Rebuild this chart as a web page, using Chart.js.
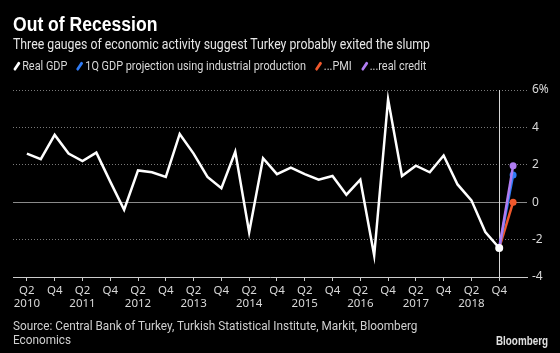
<!DOCTYPE html>
<html>
<head>
<meta charset="utf-8">
<script src="https://cdn.jsdelivr.net/npm/chart.js@4.4.1/dist/chart.umd.min.js"></script>
<style>
  html, body { margin: 0; padding: 0; background: #000; }
  #wrap { position: relative; width: 560px; height: 353px; background: #000; overflow: hidden; font-family: Roboto, "Noto Sans", sans-serif; color: #ddd; }
  #chart { position: absolute; left: 0; top: 0; }
  .txt { position: absolute; left: 13px; white-space: nowrap; transform-origin: 0 0; }
  #title { top: 13px; font-family: "Liberation Sans", sans-serif; font-size: 20px; line-height: 22px; font-weight: bold; font-style: normal; color: #fff; }
  #subtitle { top: 35px; font-size: 14px; line-height: 18px; color: #e6e6e6; }
  #legend { top: 58px; font-size: 12.5px; line-height: 16px; color: #d8d8d8; }
  #legend .item { display: inline-block; margin-right: 10px; }
  #legend .swatch { display: inline-block; width: 2.5px; height: 10px; margin: 0 5px 0 3px; transform: rotate(38deg); vertical-align: -1px; border-radius: 1px; }
  #source { top: 319px; font-size: 12.5px; line-height: 13.5px; color: #d0d0d0; }
  #brand { position: absolute; right: 12px; top: 334px; font-family: "Liberation Sans", sans-serif; font-size: 12.5px; line-height: 14px; font-weight: bold; font-style: normal; color: #e0e0e0; transform-origin: 100% 0; }
</style>
</head>
<body>
<div id="wrap">
  <canvas id="chart" width="560" height="353"></canvas>
  <div class="txt" id="title">Out of Recession</div>
  <div class="txt" id="subtitle">Three gauges of economic activity suggest Turkey probably exited the slump</div>
  <div class="txt" id="legend"></div>
  <div class="txt" id="source">Source: Central Bank of Turkey, Turkish Statistical Institute, Markit, Bloomberg<br>Economics</div>
  <div id="brand">Bloomberg</div>
</div>
<script>
// --- DATA ---
const quarters = [
    'Q2 2010', 'Q3 2010', 'Q4 2010', 'Q1 2011', 'Q2 2011', 'Q3 2011', 'Q4 2011',
    'Q1 2012', 'Q2 2012', 'Q3 2012', 'Q4 2012', 'Q1 2013', 'Q2 2013', 'Q3 2013', 'Q4 2013',
    'Q1 2014', 'Q2 2014', 'Q3 2014', 'Q4 2014', 'Q1 2015', 'Q2 2015', 'Q3 2015', 'Q4 2015',
    'Q1 2016', 'Q2 2016', 'Q3 2016', 'Q4 2016', 'Q1 2017', 'Q2 2017', 'Q3 2017', 'Q4 2017',
    'Q1 2018', 'Q2 2018', 'Q3 2018', 'Q4 2018', 'Q1 2019'
];
// quarter-on-quarter real GDP growth, Q2 2010 .. Q4 2018
const realGdp = [
    2.6, 2.3, 3.6, 2.6, 2.2, 2.65, 1.1, -0.4, 1.7, 1.6, 1.35, 3.65,
    2.6, 1.35, 0.75, 2.7, -1.6, 2.35, 1.5, 1.85, 1.5, 1.2, 1.4, 0.4,
    1.2, -2.85, 5.5, 1.4, 1.95, 1.6, 2.5, 0.95, 0.1, -1.6, -2.45
];
// 1Q 2019 projections
const ipProjection = 1.45;
const pmiProjection = 0.0;
const creditProjection = 1.95;

const yTicks = [-4, -2, 0, 2, 4, 6];
const xTickIdx = [0, 2, 4, 6, 8, 10, 12, 14, 16, 18, 20, 22, 24, 26, 28, 30, 32, 34];

const WHITE = '#ffffff';
const BLUE = '#2f7bf5';
const ORANGE = '#f0582c';
const PURPLE = '#b07cf2';

// --- LEGEND (html) ---
const legendItems = [
    ['Real GDP', WHITE],
    ['1Q GDP projection using industrial production', BLUE],
    ['...PMI', ORANGE],
    ['...real credit', PURPLE]
];
document.getElementById('legend').innerHTML = legendItems.map(([t, c]) =>
    `<span class="item"><span class="swatch" style="background:${c}"></span>${t}</span>`).join('');

// squeeze the header/footer text to the widths seen in the reference
const fitWidth = (id, target) => {
    const el = document.getElementById(id);
    const w = el.scrollWidth;
    if (w > 0) el.style.transform = `scaleX(${target / w})`;
};
fitWidth('title', 144);
fitWidth('subtitle', 417);
fitWidth('legend', 422);
fitWidth('source', 404);
fitWidth('brand', 52);

// --- helpers ---
const lastIdx = realGdp.length - 1;
const projection = (val) => [{ x: lastIdx, y: realGdp[lastIdx] }, { x: lastIdx + 1, y: val }];
const projDataset = (label, val, color) => ({
    label: label,
    data: projection(val),
    borderColor: color,
    backgroundColor: color,
    borderWidth: 2.5,
    pointRadius: [0, 3.5],
    pointBorderWidth: 0,
    tension: 0
});

// vertical marker at last actual quarter
const markerLine = {
    id: 'markerLine',
    beforeDatasetsDraw(chart) {
        const { ctx, chartArea, scales } = chart;
        const x = Math.round(scales.x.getPixelForValue(lastIdx)) + 0.5;
        ctx.save();
        ctx.strokeStyle = '#d8d8d8';
        ctx.lineWidth = 1;
        ctx.beginPath();
        ctx.moveTo(x, chartArea.top);
        ctx.lineTo(x, chartArea.bottom);
        ctx.stroke();
        ctx.restore();
    }
};

const ctx = document.getElementById('chart').getContext('2d');
const chart = new Chart(ctx, {
    type: 'line',
    data: {
        datasets: [
            {
                label: 'Real GDP',
                data: realGdp.map((v, i) => ({ x: i, y: v })),
                borderColor: WHITE,
                backgroundColor: WHITE,
                borderWidth: 2.5,
                pointRadius: realGdp.map((v, i) => i === lastIdx ? 4 : 0),
                pointBorderWidth: 0,
                tension: 0
            },
            projDataset('...real credit', creditProjection, PURPLE),
            projDataset('1Q GDP projection using industrial production', ipProjection, BLUE),
            projDataset('...PMI', pmiProjection, ORANGE)
        ]
    },
    options: {
        responsive: false,
        animation: false,
        events: [],
        layout: { padding: { top: 90, left: 13, right: 0, bottom: 0 } },
        plugins: {
            legend: { display: false },
            tooltip: { enabled: false }
        },
        scales: {
            x: {
                type: 'linear',
                min: -1,
                max: quarters.length,
                afterBuildTicks: (scale) => { scale.ticks = xTickIdx.map(v => ({ value: v })); },
                afterFit: (scale) => { scale.height = 76; },
                grid: { drawOnChartArea: false, drawTicks: true, tickLength: 4, color: '#cccccc' },
                border: { display: true, color: '#cccccc', width: 1 },
                ticks: {
                    autoSkip: false,
                    maxRotation: 0,
                    padding: 3,
                    color: '#d8d8d8',
                    font: { family: 'Noto Sans', size: 11.5, lineHeight: 1.15 },
                    callback: (v) => {
                        const [q, yr] = quarters[v].split(' ');
                        return q === 'Q2' ? [q, yr] : q;
                    }
                }
            },
            y: {
                position: 'right',
                min: -4,
                max: 6,
                afterBuildTicks: (scale) => { scale.ticks = yTicks.map(v => ({ value: v })); },
                afterFit: (scale) => { scale.width = 33; },
                grid: {
                    drawTicks: false,
                    lineWidth: 1,
                    color: (c) => c.tick.value === -4 ? 'rgba(0,0,0,0)' : (c.tick.value === 0 ? '#8a8a8a' : '#7a7a7a')
                },
                border: {
                    display: false,
                    dash: (c) => (c.tick && c.tick.value === 0) ? [] : [1, 2]
                },
                ticks: {
                    padding: 5,
                    color: '#d8d8d8',
                    font: { family: 'Noto Sans', size: 12 },
                    callback: (v) => v === 6 ? v + '%' : v
                }
            }
        }
    },
    plugins: [markerLine]
});
</script>
</body>
</html>
